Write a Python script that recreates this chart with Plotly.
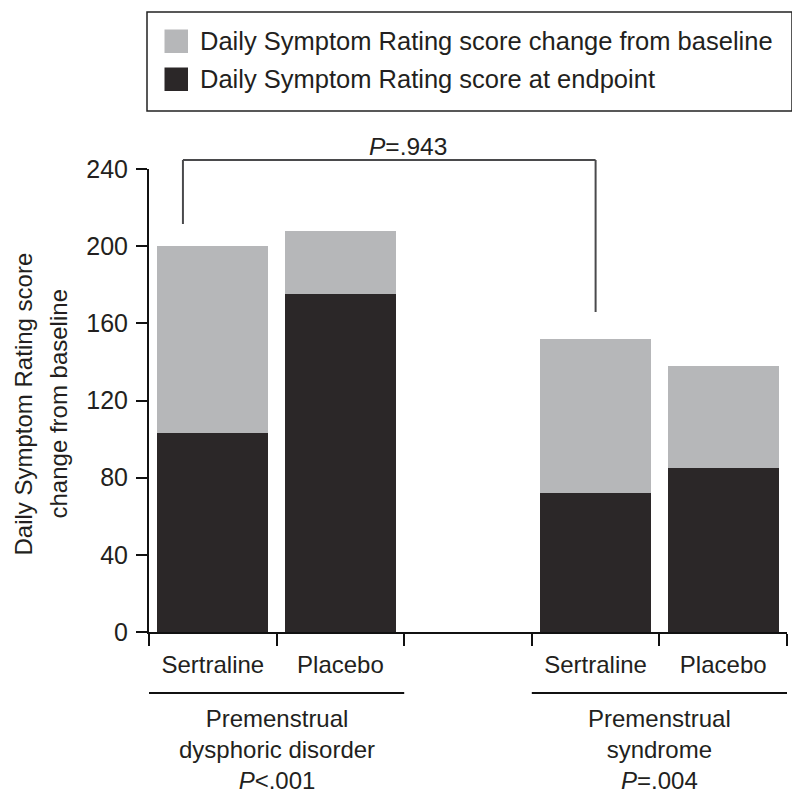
import plotly.graph_objects as go

# ---- data ----
groups = ["Premenstrual dysphoric disorder", "Premenstrual dysphoric disorder", "", "Premenstrual syndrome", "Premenstrual syndrome"]
categories = ["PMDD Sertraline", "PMDD Placebo", "gap", "PMS Sertraline", "PMS Placebo"]
tick_labels = ["Sertraline", "Placebo", "", "Sertraline", "Placebo"]
endpoint = [103, 175, None, 72, 85]
change = [97, 33, None, 80, 53]
y_ticks = [0, 40, 80, 120, 160, 200, 240]
series_names = ["Daily Symptom Rating score change from baseline", "Daily Symptom Rating score at endpoint"]
group_labels = ["Premenstrual<br>dysphoric disorder<br><i>P</i>&lt;.001", "Premenstrual<br>syndrome<br><i>P</i>=.004"]
bracket_label = "<i>P</i>=.943"

GRAY = "#b6b7b9"
DARK = "#2b2728"
TXT = "#231f20"
FONT = "Liberation Sans, Arial, sans-serif"

OFF = 8  # page body margin
W, H = 800 - OFF, 802 - OFF
ML, MT = 149 - OFF, 169 - OFF
MR = W - (787 - OFF)
MB = H - (632 - OFF)
PW, PH = W - ML - MR, H - MT - MB


def px(x):
    return (x - OFF - ML) / PW


def py(y):
    return (H - MB - (y - OFF)) / PH


fig = go.Figure()
fig.add_trace(go.Bar(x=categories, y=endpoint, name=series_names[1], marker=dict(color=DARK, line=dict(width=0)),
                     width=0.87, showlegend=False))
fig.add_trace(go.Bar(x=categories, y=change, name=series_names[0], marker=dict(color=GRAY, line=dict(width=0)),
                     width=0.87, showlegend=False))

shapes = []
annotations = []

# legend (drawn manually)
shapes.append(dict(type="rect", xref="paper", yref="paper", x0=px(147), x1=px(792), y0=py(12), y1=py(111),
                   line=dict(color="#222", width=1.5), fillcolor="rgba(0,0,0,0)"))
for i, (col, name) in enumerate([(GRAY, series_names[0]), (DARK, series_names[1])]):
    top = 29.5 + i * 38
    shapes.append(dict(type="rect", xref="paper", yref="paper", x0=px(164.5), x1=px(188), y0=py(top), y1=py(top + 23.5),
                       line=dict(width=0), fillcolor=col))
    annotations.append(dict(xref="paper", yref="paper", x=px(198), y=py(top + 11.5), xanchor="left", yanchor="middle",
                            text=name, showarrow=False, font=dict(size=25.5, color=TXT, family=FONT)))

# bracket
bl = -0.234
br = 3.0
shapes.append(dict(type="line", xref="x", yref="paper", x0=bl, x1=bl, y0=py(224), y1=py(160), line=dict(color="#4a4a4c", width=2)))
shapes.append(dict(type="line", xref="x", yref="paper", x0=bl, x1=br, y0=py(160), y1=py(160), line=dict(color="#4a4a4c", width=2)))
shapes.append(dict(type="line", xref="x", yref="paper", x0=br, x1=br, y0=py(160), y1=py(312), line=dict(color="#4a4a4c", width=2)))
annotations.append(dict(xref="x", yref="paper", x=(bl + br) / 2 + 0.15, y=py(147), text=bracket_label, showarrow=False,
                        xanchor="center", yanchor="middle", font=dict(size=24.5, color=TXT, family=FONT)))

# group lines and labels
for (a, b), lab in zip([(-0.5, 1.5), (2.5, 4.5)], group_labels):
    shapes.append(dict(type="line", xref="x", yref="paper", x0=a, x1=b, y0=py(693), y1=py(693), line=dict(color="#111", width=2)))
    annotations.append(dict(xref="x", yref="paper", x=(a + b) / 2, y=py(749), text=lab, showarrow=False,
                            xanchor="center", yanchor="middle", font=dict(size=24, color=TXT, family=FONT)))

# y-axis title (two lines)
annotations.append(dict(xref="paper", yref="paper", x=px(22.5), y=py(404), text="Daily Symptom Rating score", textangle=-90,
                        showarrow=False, xanchor="center", yanchor="middle", font=dict(size=24, color=TXT, family=FONT)))
annotations.append(dict(xref="paper", yref="paper", x=px(57.5), y=py(404), text="change from baseline", textangle=-90,
                        showarrow=False, xanchor="center", yanchor="middle", font=dict(size=24, color=TXT, family=FONT)))

fig.update_layout(
    width=W, height=H, autosize=False,
    margin=dict(l=ML, r=MR, t=MT, b=MB),
    barmode="stack", bargap=0.13,
    plot_bgcolor="white", paper_bgcolor="white",
    font=dict(family=FONT, color=TXT, size=24),
    shapes=shapes, annotations=annotations,
    showlegend=False,
    xaxis=dict(type="category", categoryorder="array", categoryarray=categories,
               tickvals=categories, ticktext=tick_labels, tickson="boundaries",
               ticks="outside", ticklen=12, tickwidth=2, tickcolor="#111",
               showline=True, linewidth=2, linecolor="#111", showgrid=False, zeroline=False,
               range=[-0.5, 4.5], tickfont=dict(size=24, color=TXT, family=FONT), ticklabelstandoff=10),
    yaxis=dict(range=[0, 240], tickvals=y_ticks, ticks="outside", ticklen=11, tickwidth=2, tickcolor="#111",
               showline=True, linewidth=2, linecolor="#111", showgrid=False, zeroline=False,
               tickfont=dict(size=25, color=TXT, family=FONT), ticklabelstandoff=3),
)

fig.write_html("out.html")
